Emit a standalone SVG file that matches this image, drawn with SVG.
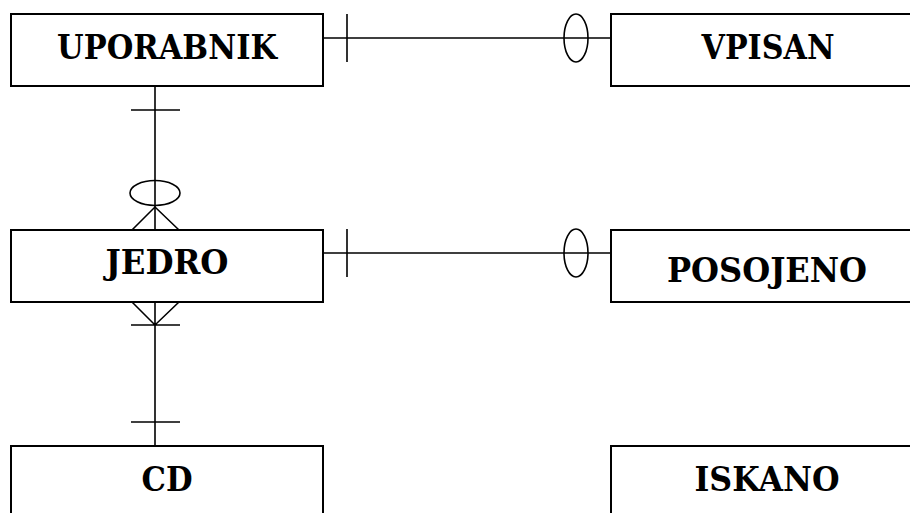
<svg xmlns="http://www.w3.org/2000/svg" width="910" height="513" viewBox="0 0 910 513">
<style>
.box{fill:#fff;stroke:#000;stroke-width:2}
.lbl{font-family:"DejaVu Serif","Liberation Serif",serif;font-weight:bold;font-size:34px;text-anchor:middle;fill:#000}
.ln{fill:none;stroke:#000;stroke-width:1.6}
</style>
<rect width="910" height="513" fill="#fff"/>
<g id="connectors">
<path class="ln" d="M323,38 H611 M347,14 V62"/>
<ellipse class="ln" cx="576" cy="38" rx="12" ry="24"/>
<path class="ln" d="M323,253 H611 M347,229 V277"/>
<ellipse class="ln" cx="576" cy="253" rx="12" ry="24"/>
<path class="ln" d="M155,86 V230 M131,110 H180"/>
<ellipse class="ln" cx="155" cy="193" rx="25" ry="12.5"/>
<path class="ln" d="M132,230 L155,207 L179,230"/>
<path class="ln" d="M155,302 V446 M132,302 L155,325 L179,302 M131,325 H180 M131,422 H180"/>
</g>
<g id="uporabnik"><rect class="box" x="11" y="14" width="312" height="72"/><text class="lbl" x="167" y="59" textLength="220" lengthAdjust="spacingAndGlyphs">UPORABNIK</text></g>
<g id="vpisan"><rect class="box" x="611" y="14" width="312" height="72"/><text class="lbl" x="768" y="59" textLength="133" lengthAdjust="spacingAndGlyphs">VPISAN</text></g>
<g id="jedro"><rect class="box" x="11" y="230" width="312" height="72"/><text class="lbl" x="167" y="274" textLength="123" lengthAdjust="spacingAndGlyphs">JEDRO</text></g>
<g id="posojeno"><rect class="box" x="611" y="230" width="312" height="72"/><text class="lbl" x="767" y="282" textLength="200" lengthAdjust="spacingAndGlyphs">POSOJENO</text></g>
<g id="cd"><rect class="box" x="11" y="446" width="312" height="72"/><text class="lbl" x="167" y="491" textLength="51" lengthAdjust="spacingAndGlyphs">CD</text></g>
<g id="iskano"><rect class="box" x="611" y="446" width="312" height="72"/><text class="lbl" x="767" y="491" textLength="145" lengthAdjust="spacingAndGlyphs">ISKANO</text></g>
</svg>
